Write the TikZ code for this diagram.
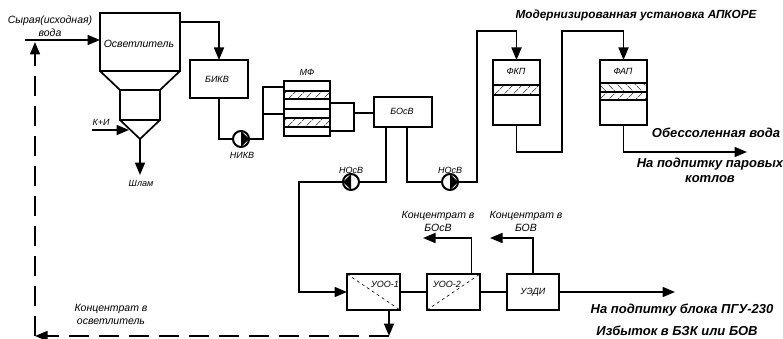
\documentclass[tikz,border=0pt]{standalone}
\usepackage{fontspec}
\setmainfont{Liberation Sans}
\usetikzlibrary{arrows.meta,patterns.meta}
\tikzset{
  unitbox/.style={draw,line width=1.7pt,inner sep=0pt,outer sep=0pt},
  hatchup/.style={unitbox,pattern={Lines[angle=45,distance=6.5pt,line width=.5pt]}},
  hatchdown/.style={unitbox,pattern={Lines[angle=-45,distance=6.5pt,line width=.5pt]}},
  pipe/.style={line width=1.7pt},
  flow/.style={pipe,-{Triangle[length=12.5pt,width=10pt]}},
  returnflow/.style={flow,dash pattern=on 20pt off 10pt},
  tag/.style={font=\itshape\fontsize{9}{13}\selectfont,align=center,inner sep=0pt},
  lbl/.style={font=\itshape\fontsize{10.5}{13}\selectfont,align=center,inner sep=0pt},
  boldlbl/.style={font=\bfseries\itshape\fontsize{11.8}{15}\selectfont,align=center,inner sep=0pt},
  boldbig/.style={font=\bfseries\itshape\fontsize{13}{15}\selectfont,align=center,inner sep=0pt},
  pumpright/.style={circle,draw,line width=2pt,fill=white,minimum size=16pt,inner sep=0pt,outer sep=0pt,
    path picture={\fill[black] (path picture bounding box.north) -- (path picture bounding box.east)
      -- (path picture bounding box.south) -- cycle;}},
  pumpleft/.style={circle,draw,line width=2pt,fill=white,minimum size=16pt,inner sep=0pt,outer sep=0pt,
    path picture={\fill[black] (path picture bounding box.north) -- (path picture bounding box.west)
      -- (path picture bounding box.south) -- cycle;}},
}
\begin{document}
\begin{tikzpicture}[x=1pt,y=-1pt]
\useasboundingbox (0,0) rectangle (783,339);
% clarifier
\node[unitbox,minimum width=80pt,minimum height=58pt] (osv) at (140,42) {};
\node[unitbox,minimum width=40pt,minimum height=30pt] (sump) at (140,105) {};
\coordinate (cone) at (140,139);
\draw[pipe] (osv.south west) -- (sump.north west) (osv.south east) -- (sump.north east);
\draw[pipe] (sump.south west) -- (cone) -- (sump.south east);
\node[lbl] (osvlbl) at (139,44) {Осветлитель};
\coordinate (rawin) at (25,40);
\coordinate (ki) at (92,130);
\coordinate (kitip) at (129,130);
\coordinate (slam) at (140,175);
\draw[flow] (rawin) -- (osv.west |- rawin);
\draw[flow] (ki) -- (kitip);
\draw[flow] (cone) -- (slam);
\node[lbl] (rawlbl) at (50,26) {Сырая(исходная)\\вода};
\node[tag] (kilbl) at (101,122) {К+И};
\node[tag] (slamlbl) at (141,183) {Шлам};
% intermediate tank and filters
\node[unitbox,minimum width=58pt,minimum height=38pt] (bikv) at (219,79) {};
\node[tag] (bikvlbl) at (217,79) {БИКВ};
\node[pumpright] (nikv) at (241,139) {};
\node[tag] (nikvlbl) at (242,155) {НИКВ};
\node[unitbox,minimum width=46pt,minimum height=55pt] (mf) at (307,108.5) {};
\node[hatchup,minimum width=46pt,minimum height=8pt] (mfa) at (307,95) {};
\node[hatchup,minimum width=46pt,minimum height=9pt] (mfb) at (307,122.5) {};
\draw[pipe] (mf.west |- 0,109) -- (mf.east |- 0,109);
\node[tag] (mflbl) at (307,72) {МФ};
\node[unitbox,minimum width=58pt,minimum height=30pt] (bosv) at (403,112) {};
\node[tag] (bosvlbl) at (402,111) {БОсВ};
\coordinate (mfin) at (263,114);
\coordinate (mfout) at (354,113);
\draw[flow] (osv.east |- 0,22) -| (bikv.north);
\draw[pipe] (bikv.south) |- (nikv.west);
\draw[pipe] (nikv.east) -| (mfin |- 0,87) -- (mf.west |- 0,87);
\draw[pipe] (mfin) -- (mf.west |- mfin);
\draw[pipe] (mf.east |- 0,103) -| (mfout) |- (mf.east |- 0,131);
\draw[pipe] (mfout) -- (bosv.west |- mfout);
% apcore unit
\node[unitbox,minimum width=47pt,minimum height=65pt] (fkp) at (516.5,92.5) {};
\node[hatchup,minimum width=47pt,minimum height=10pt] (fkpa) at (516.5,90) {};
\node[tag] (fkplbl) at (516,71) {ФКП};
\node[unitbox,minimum width=47pt,minimum height=65pt] (fap) at (623.5,92.5) {};
\node[hatchdown,minimum width=47pt,minimum height=9pt] (fapa) at (623.5,87.5) {};
\node[hatchup,minimum width=47pt,minimum height=8pt] (fapb) at (623.5,96) {};
\node[tag] (faplbl) at (623,71) {ФАП};
\node[pumpleft] (nosva) at (351,182) {};
\node[pumpright] (nosvb) at (450,182) {};
\node[tag] (nosvalbl) at (351,170) {НОсВ};
\node[tag] (nosvblbl) at (450,170) {НОсВ};
\coordinate (risea) at (477,31);
\coordinate (riseb) at (562,31);
\coordinate (outlet) at (747,152);
\draw[pipe] ([xshift=-17pt]bosv.south) |- (nosva.east);
\draw[pipe] ([xshift=4pt]bosv.south) |- (nosvb.west);
\draw[flow] (nosvb.east) -| (risea) -| (fkp.north);
\draw[flow] (fkp.south) |- (riseb |- outlet) -- (riseb) -| (fap.north);
\draw[flow] (fap.south) |- (outlet);
\node[boldlbl] (apcorelbl) at (636,15) {Модернизированная установка АПКОРЕ};
\node[boldbig] (demlbl) at (716,133) {Обессоленная вода};
\node[boldbig] (steamlbl) at (710,170.5) {На подпитку паровых\\котлов};
% membranes
\node[unitbox,minimum width=53pt,minimum height=36pt] (uooa) at (373.5,292) {};
\node[unitbox,minimum width=53pt,minimum height=36pt] (uoob) at (453.5,292) {};
\node[unitbox,minimum width=52pt,minimum height=36pt] (uzdi) at (533,292) {};
\draw[dashed,line width=.6pt] (uooa.north west) -- (uooa.south east);
\draw[dashed,line width=.6pt] (uoob.south west) -- (uoob.north east);
\node[tag] (uooalbl) at (385,284) {УОО-1};
\node[tag] (uooblbl) at (447,284) {УОО-2};
\node[tag] (uzdilbl) at (533,292) {УЭДИ};
\coordinate (feed) at (299,292);
\coordinate (conca) at (423,238);
\coordinate (concb) at (490,238);
\coordinate (product) at (675,292);
\coordinate (drain) at (389,336);
\coordinate (corner) at (35,336);
\coordinate (mix) at (35,42);
\draw[flow] (nosva.west) -| (feed) -- (uooa.west);
\draw[pipe] (uooa.east) -- (uoob.west);
\draw[pipe] (uoob.east) -- (uzdi.west);
\draw[flow] (uzdi.east) -- (product);
\draw[flow] ([xshift=18pt]uoob.north) |- (conca);
\draw[flow] (uzdi.north) |- (concb);
\draw[flow] (drain |- uooa.south) -- (drain);
\draw[returnflow] (drain) -- (corner);
\draw[returnflow] (corner) -- (mix);
\node[lbl] (concalbl) at (438,221.5) {Концентрат в\\БОсВ};
\node[lbl] (concblbl) at (526,221.5) {Концентрат в\\БОВ};
\node[lbl] (conccllbl) at (111,314.5) {Концентрат в\\осветлитель};
\node[boldbig] (pgulbl) at (682,310) {На подпитку блока ПГУ-230};
\node[boldbig] (bzklbl) at (677,331) {Избыток в БЗК или БОВ};
\end{tikzpicture}
\end{document}
